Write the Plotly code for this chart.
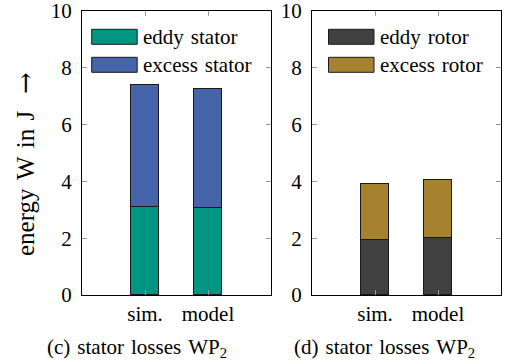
import plotly.graph_objects as go

# categories and stacked energies (J)
categories = ["sim.", "model"]
eddy_stator = [3.1, 3.05]
excess_stator = [4.3, 4.2]
eddy_rotor = [1.92, 2.0]
excess_rotor = [1.98, 2.06]
y_ticks = [0, 2, 4, 6, 8, 10]

C_EDDY_S = "#009682"
C_EXC_S = "#4664AA"
C_EDDY_R = "#404040"
C_EXC_R = "#A7822E"

W, H = 505, 364
FONT = "Liberation Serif"
FS = 21
SP = "\u2004"  # slightly wider word space
xpos = [1, 2]

fig = go.Figure()

def add_bar(vals, color, xa, ya):
    fig.add_trace(go.Bar(
        x=xpos, y=vals, width=0.43, marker=dict(color=color, line=dict(color="#1a1a1a", width=1)),
        xaxis=xa, yaxis=ya, showlegend=False,
    ))

add_bar(eddy_stator, C_EDDY_S, "x", "y")
add_bar(excess_stator, C_EXC_S, "x", "y")
add_bar(eddy_rotor, C_EDDY_R, "x2", "y2")
add_bar(excess_rotor, C_EXC_R, "x2", "y2")

ydom = [1 - 295 / H, 1 - 11 / H]
left_dom = [82 / W, 271 / W]
right_dom = [312 / W, 501 / W]

xcommon = dict(range=[0, 3], tickvals=xpos, ticktext=categories, showline=True, linecolor="black",
               linewidth=1, mirror="ticks", ticks="inside", ticklen=5, tickcolor="#999999",
               showgrid=False, zeroline=False, automargin=False, ticklabeloverflow="allow",
               tickfont=dict(family=FONT, size=FS, color="black"))
ycommon = dict(range=[0, 10], tickvals=y_ticks, showline=True, linecolor="black", linewidth=1,
               mirror="ticks", ticks="inside", ticklen=5, tickcolor="#999999", showgrid=False,
               zeroline=False, automargin=False, ticklabelstandoff=5, ticklabeloverflow="allow",
               tickfont=dict(family=FONT, size=FS, color="black"))

fig.update_layout(
    width=W, height=H, margin=dict(l=0, r=0, t=0, b=0, autoexpand=False),
    paper_bgcolor="white", plot_bgcolor="white", barmode="stack", bargap=0,
    xaxis=dict(domain=left_dom, anchor="y", **xcommon),
    yaxis=dict(domain=ydom, anchor="x", **ycommon),
    xaxis2=dict(domain=right_dom, anchor="y2", **xcommon),
    yaxis2=dict(domain=ydom, anchor="x2", **ycommon),
    showlegend=False,
)

def px(x):
    return x / W

def py(y):
    return 1 - y / H

# legends drawn as boxes with labels
def legend(x0, entries):
    for i, (label, color) in enumerate(entries):
        top = 29.3 + i * 28
        fig.add_shape(type="rect", xref="paper", yref="paper",
                      x0=px(x0), x1=px(x0 + 45.5), y0=py(top + 15), y1=py(top),
                      fillcolor=color, line=dict(color="#1a1a1a", width=1))
        fig.add_annotation(x=px(x0 + 49), y=py(top + 7.5), xref="paper", yref="paper",
                           text=label.replace(" ", SP), showarrow=False, xanchor="left",
                           yanchor="middle", font=dict(family=FONT, size=FS, color="black"),
                           bgcolor="white")

legend(91.7, [("eddy stator", C_EDDY_S), ("excess stator", C_EXC_S)])
legend(328.5, [("eddy rotor", C_EDDY_R), ("excess rotor", C_EXC_R)])

arrow = "<span style=\"font-family:'DejaVu Serif';font-size:26px\">\u2192</span>"
fig.add_annotation(x=px(25), y=py(164), xref="paper", yref="paper",
                   text=f"energy{SP}W{SP}in{SP}J{SP}{SP}{arrow}",
                   textangle=-90, showarrow=False, xanchor="center", yanchor="middle",
                   font=dict(family=FONT, size=25, color="black"))

for cx, lab in [(137, "(c) stator losses WP<sub>2</sub>"), (384, "(d) stator losses WP<sub>2</sub>")]:
    fig.add_annotation(x=px(cx), y=py(348), xref="paper", yref="paper", text=lab.replace(" ", SP),
                       showarrow=False, xanchor="center", yanchor="middle",
                       font=dict(family=FONT, size=FS, color="black"))

fig.write_html("out.html")
